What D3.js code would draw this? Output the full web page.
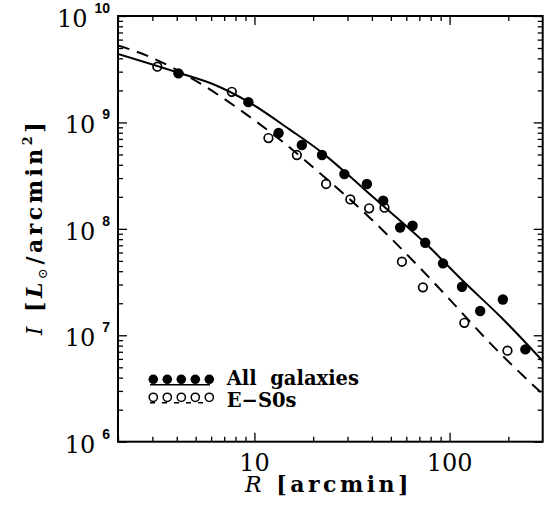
<!DOCTYPE html>
<html>
<head>
<meta charset="utf-8">
<script src="https://cdn.jsdelivr.net/npm/d3@7"></script>
<style>
  html, body { margin: 0; padding: 0; background: #fff; }
  svg { display: block; }
</style>
</head>
<body>
<div id="container"></div>
<script>
// ---
// Data
// ---
const allR = [4.08, 9.31, 13.3, 17.5, 22.2, 28.9, 37.7, 45.7, 55.8, 64.6, 75.0, 92.5, 115.8, 143.5, 187.5, 244.5]
const allI = [2.89e9, 1.55e9, 7.95e8, 6.13e8, 4.94e8, 3.27e8, 2.64e8, 1.84e8, 1.03e8, 1.07e8, 7.4e7, 4.74e7, 2.86e7, 1.69e7, 2.17e7, 7.37e6]
const esR = [3.18, 7.66, 11.8, 16.5, 23.3, 31.0, 38.7, 46.4, 57.0, 73.0, 119, 198]
const esI = [3.34e9, 1.94e9, 7.13e8, 4.94e8, 2.64e8, 1.89e8, 1.56e8, 1.58e8, 4.91e7, 2.82e7, 1.31e7, 7.16e6]
const allFitR = [2, 4.08, 6.2, 9.31, 15.2, 22.2, 29.2, 39.2, 75, 118, 189, 300]
const allFitI = [4.4e9, 2.93e9, 2.27e9, 1.56e9, 8.55e8, 5.2e8, 3.4e8, 2.1e8, 7.35e7, 3.2e7, 1.4e7, 5.73e6]
const esFitR = [2, 2.92, 5.27, 8.45, 13.8, 22.2, 39.2, 70.8, 100.8, 161.7, 300]
const esFitI = [5.3e9, 4.12e9, 2.33e9, 1.31e9, 6.68e8, 3.21e8, 1.26e8, 4.26e7, 2.14e7, 8.39e6, 2.8e6]
const xDomain = [2, 300]
const yDomain = [1e6, 1e10]
const xLabels = [10, 100]
const yExponents = [6, 7, 8, 9, 10]
const legendLabels = ['All  galaxies', 'E\u2212S0s']

const margin = {top: 16, right: 8.3, bottom: 74.3, left: 118}
const width = 551 - margin.left - margin.right
const height = 516 - margin.top - margin.bottom
const serif = '"DejaVu Serif", serif'

// Scale
const xScale = d3.scaleLog().domain(xDomain).range([0, width])
const yScale = d3.scaleLog().domain(yDomain).range([height, 0])

const isDecade = v => Math.abs(Math.log10(v) - Math.round(Math.log10(v))) < 1e-9
const xMinor = xScale.ticks().filter(v => !isDecade(v) && v < xDomain[1])
const xMajor = xScale.ticks().filter(isDecade)
const yMinor = yScale.ticks().filter(v => !isDecade(v))
const yMajor = yScale.ticks().filter(isDecade)

// Container
const root = d3.select('#container').append('svg')
    .attr('width', 551)
    .attr('height', 516)
const svg = root.append('g')
    .attr('transform', `translate(${margin.left}, ${margin.top})`)

svg.append('clipPath').attr('id', 'clip')
  .append('rect').attr('width', width).attr('height', height)

// Axes (ticks point inward on all four sides)
const axes = [
  [d3.axisBottom(xScale), xMinor, xMajor, `translate(0, ${height})`],
  [d3.axisTop(xScale), xMinor, xMajor, 'translate(0, 0)'],
  [d3.axisLeft(yScale), yMinor, yMajor, 'translate(0, 0)'],
  [d3.axisRight(yScale), yMinor, yMajor, `translate(${width}, 0)`]
]
axes.forEach(([axis, minor, major, tr]) => {
  [[minor, 5], [major, 9]].forEach(([vals, len]) => {
    const g = svg.append('g')
      .attr('transform', tr)
      .call(axis.tickValues(vals).tickSize(-len).tickFormat(''))
    g.select('.domain').remove()
    g.selectAll('line').attr('stroke', '#000').attr('stroke-width', 1.3)
  })
})

svg.append('rect')
  .attr('width', width)
  .attr('height', height)
  .attr('fill', 'none')
  .attr('stroke', '#000')
  .attr('stroke-width', 2)

// Tick labels
svg.selectAll('.xlab')
    .data(xLabels)
  .enter()
    .append('text')
    .attr('x', d => xScale(d))
    .attr('y', height + 29)
    .attr('text-anchor', 'middle')
    .style('font-family', serif)
    .style('font-size', '24px')
    .text(d => d)

const ylab = svg.selectAll('.ylab')
    .data(yExponents)
  .enter()
    .append('text')
    .attr('x', -8)
    .attr('y', d => yScale(Math.pow(10, d)) + 11)
    .attr('text-anchor', 'end')
ylab.append('tspan')
  .style('font-family', serif)
  .style('font-size', '24px')
  .text('10')
ylab.append('tspan')
  .attr('dx', 7)
  .attr('dy', -14)
  .style('font-family', '"Liberation Sans", sans-serif')
  .style('font-weight', 'bold')
  .style('font-size', '14px')
  .text(d => d)

// Fits
const line = d3.line()
  .x(d => xScale(d[0]))
  .y(d => yScale(d[1]))
  .curve(d3.curveMonotoneX)

const plot = svg.append('g').attr('clip-path', 'url(#clip)')

plot.append('path')
  .datum(d3.zip(allFitR, allFitI))
  .attr('d', line)
  .attr('fill', 'none')
  .attr('stroke', '#000')
  .attr('stroke-width', 2)

plot.append('path')
  .datum(d3.zip(esFitR, esFitI))
  .attr('d', line)
  .attr('fill', 'none')
  .attr('stroke', '#000')
  .attr('stroke-width', 2)
  .attr('stroke-dasharray', '12,8')

// Points
plot.selectAll('.es')
    .data(d3.zip(esR, esI))
  .enter()
    .append('circle')
    .attr('cx', d => xScale(d[0]))
    .attr('cy', d => yScale(d[1]))
    .attr('r', 4.3)
    .attr('fill', 'none')
    .attr('stroke', '#000')
    .attr('stroke-width', 1.7)

plot.selectAll('.all')
    .data(d3.zip(allR, allI))
  .enter()
    .append('circle')
    .attr('cx', d => xScale(d[0]))
    .attr('cy', d => yScale(d[1]))
    .attr('r', 5.2)
    .attr('fill', '#000')

// Legend
const legend = root.append('g')
legendLabels.forEach((label, i) => {
  const cy = 379.3 + i * 18
  legend.append('line')
    .attr('x1', 150).attr('x2', 210)
    .attr('y1', cy + 5.5).attr('y2', cy + 5.5)
    .attr('stroke', '#000')
    .attr('stroke-width', 1.6)
    .attr('stroke-dasharray', i ? '5,7' : null)
  legend.selectAll(`.sym${i}`)
      .data(d3.range(5))
    .enter()
      .append('circle')
      .attr('cx', k => 153.3 + k * 14)
      .attr('cy', cy)
      .attr('r', i ? 4.1 : 4.8)
      .attr('fill', i ? '#fff' : '#000')
      .attr('stroke', '#000')
      .attr('stroke-width', i ? 1.5 : 0)
  legend.append('text')
    .attr('x', 226.7)
    .attr('y', 385 + i * 21.7)
    .style('font-family', serif)
    .style('font-weight', 'bold')
    .style('font-size', '19.5px')
    .style('white-space', 'pre')
    .text(label)
})

// Axis titles
const xt = root.append('text')
  .attr('x', 245)
  .attr('y', 492)
  .style('font-family', serif)
  .style('font-size', '22px')
  .style('letter-spacing', '3.5px')
xt.append('tspan').style('font-style', 'italic').text('R')
xt.append('tspan').style('font-weight', 'bold').text(' [arcmin]')

const yt = root.append('text')
  .attr('transform', 'translate(41.7, 227) rotate(-90)')
  .attr('text-anchor', 'middle')
  .style('font-family', serif)
  .style('font-size', '22px')
  .style('letter-spacing', '3.5px')
yt.append('tspan').style('font-style', 'italic').text('I')
yt.append('tspan').style('font-weight', 'bold').text(' [')
yt.append('tspan').style('font-style', 'italic').style('font-weight', 'bold').text('L')
yt.append('tspan').attr('dy', 5).style('font-size', '13px').text('\u2299')
yt.append('tspan').attr('dy', -5).style('font-weight', 'bold').text('/arcmin')
yt.append('tspan').attr('dy', -10).style('font-size', '13px').style('font-weight', 'bold').text('2')
yt.append('tspan').attr('dy', 10).style('font-weight', 'bold').text(']')
</script>
</body>
</html>
